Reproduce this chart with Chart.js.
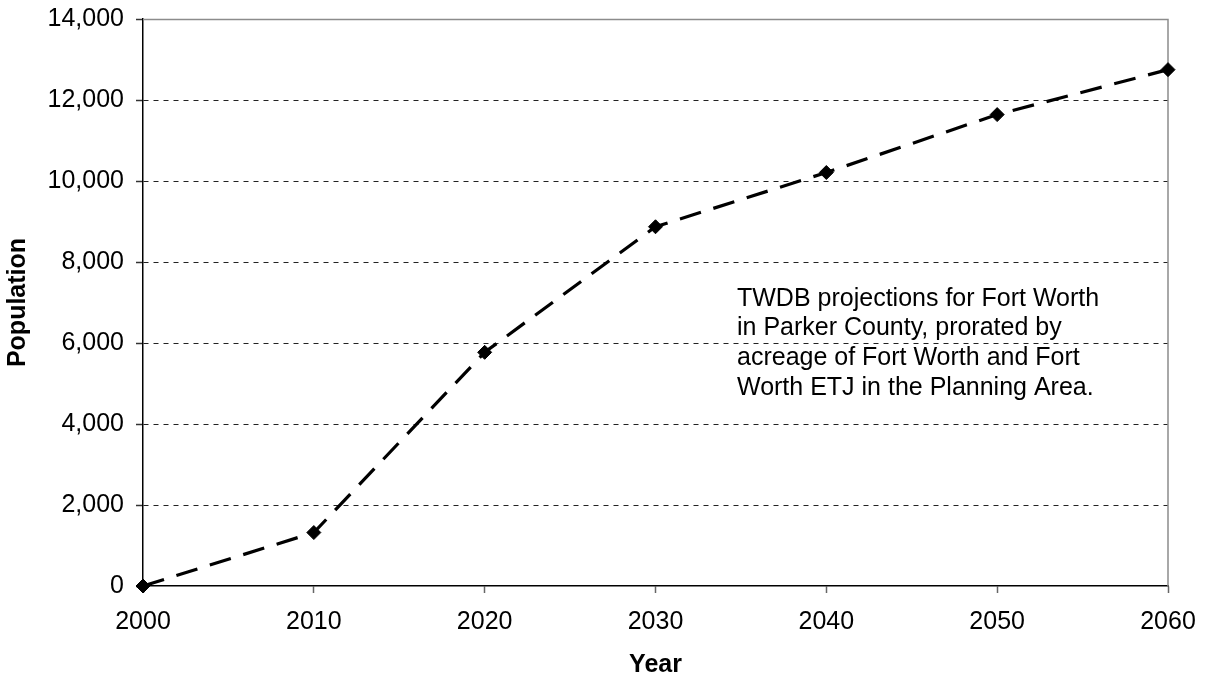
<!DOCTYPE html>
<html>
<head>
<meta charset="utf-8">
<script src="https://cdn.jsdelivr.net/npm/chart.js@4.4.1/dist/chart.umd.min.js"></script>
<style>
  html, body { margin: 0; padding: 0; background: #fff; }
  #wrap { width: 1206px; height: 682px; }
</style>
</head>
<body>
<div id="wrap"><canvas id="c" width="1206" height="682"></canvas></div>
<script>
const years = [2000, 2010, 2020, 2030, 2040, 2050, 2060];
const population = [0, 1320, 5770, 8870, 10210, 11640, 12750];
const yTickValues = [0, 2000, 4000, 6000, 8000, 10000, 12000, 14000];
const xTitle = 'Year';
const yTitle = 'Population';
const annotationLines = [
  'TWDB projections for Fort Worth',
  'in Parker County, prorated by',
  'acreage of Fort Worth and Fort',
  'Worth ETJ in the Planning Area.'
];

const FONT = "'Liberation Sans', Arial, sans-serif";

const frameAndNote = {
  id: 'frameAndNote',
  beforeDatasetsDraw(chart) {
    const { ctx, chartArea: a } = chart;
    ctx.save();
    ctx.strokeStyle = '#8c8c8c';
    ctx.lineWidth = 1.5;
    ctx.beginPath();
    ctx.moveTo(a.left, a.top + 0.5);
    ctx.lineTo(a.right, a.top + 0.5);
    ctx.lineTo(a.right, a.bottom);
    ctx.stroke();
    ctx.restore();
  },
  afterDatasetsDraw(chart) {
    const { ctx, chartArea: a } = chart;
    ctx.save();
    ctx.fillStyle = '#000';
    ctx.font = '25px ' + FONT;
    ctx.textAlign = 'left';
    ctx.textBaseline = 'alphabetic';
    const x0 = a.left + 594;
    const y0 = a.top + 286.5;
    annotationLines.forEach((t, i) => ctx.fillText(t, x0, y0 + i * 29.9));
    ctx.restore();
  }
};

new Chart(document.getElementById('c'), {
  type: 'line',
  data: {
    datasets: [{
      data: years.map((y, i) => ({ x: y, y: population[i] })),
      borderColor: '#000',
      borderWidth: 3.2,
      borderDash: [22, 13],
      borderCapStyle: 'butt',
      tension: 0,
      fill: false,
      pointStyle: 'rectRot',
      pointRadius: 7,
      pointBackgroundColor: '#000',
      pointBorderColor: '#000',
      pointBorderWidth: 1,
      clip: false
    }]
  },
  options: {
    responsive: false,
    devicePixelRatio: 1,
    animation: false,
    layout: { padding: { top: 19, right: 38, left: 0, bottom: 0 } },
    plugins: { legend: { display: false }, tooltip: { enabled: false } },
    scales: {
      x: {
        type: 'linear',
        min: years[0],
        max: years[years.length - 1],
        afterBuildTicks: s => { s.ticks = years.map(v => ({ value: v })); },
        afterFit: s => { s.height = 96; s.paddingLeft = 0; s.paddingRight = 0; },
        ticks: {
          callback: v => String(v),
          color: '#000',
          font: { family: FONT, size: 25 },
          padding: 14,
          maxRotation: 0
        },
        grid: { drawOnChartArea: false, drawTicks: true, tickLength: 7, tickColor: '#666', tickWidth: 1.5 },
        border: { display: true, color: '#000', width: 1.5 },
        title: {
          display: true,
          text: xTitle,
          color: '#000',
          font: { family: FONT, size: 25, weight: 'bold' },
          padding: { top: 0, bottom: 2 }
        }
      },
      y: {
        min: 0,
        max: 14000,
        afterBuildTicks: s => { s.ticks = yTickValues.map(v => ({ value: v })); },
        afterFit: s => { s.width = 143; s.paddingTop = 0; s.paddingBottom = 0; },
        ticks: {
          callback: v => Number(v).toLocaleString('en-US'),
          color: '#000',
          font: { family: FONT, size: 25 },
          padding: 12
        },
        grid: {
          color: c => (c.tick && (c.tick.value === 0 || c.tick.value === 14000)) ? 'rgba(0,0,0,0)' : '#222',
          lineWidth: 1,
          drawTicks: true,
          tickLength: 7,
          tickColor: '#333',
          tickWidth: 1.5
        },
        border: { display: true, color: '#000', width: 1.5, dash: [5, 5] },
        title: {
          display: true,
          text: yTitle,
          color: '#000',
          font: { family: FONT, size: 25, weight: 'bold' },
          padding: { top: 3, bottom: 0 }
        }
      }
    }
  },
  plugins: [frameAndNote]
});
</script>
</body>
</html>
